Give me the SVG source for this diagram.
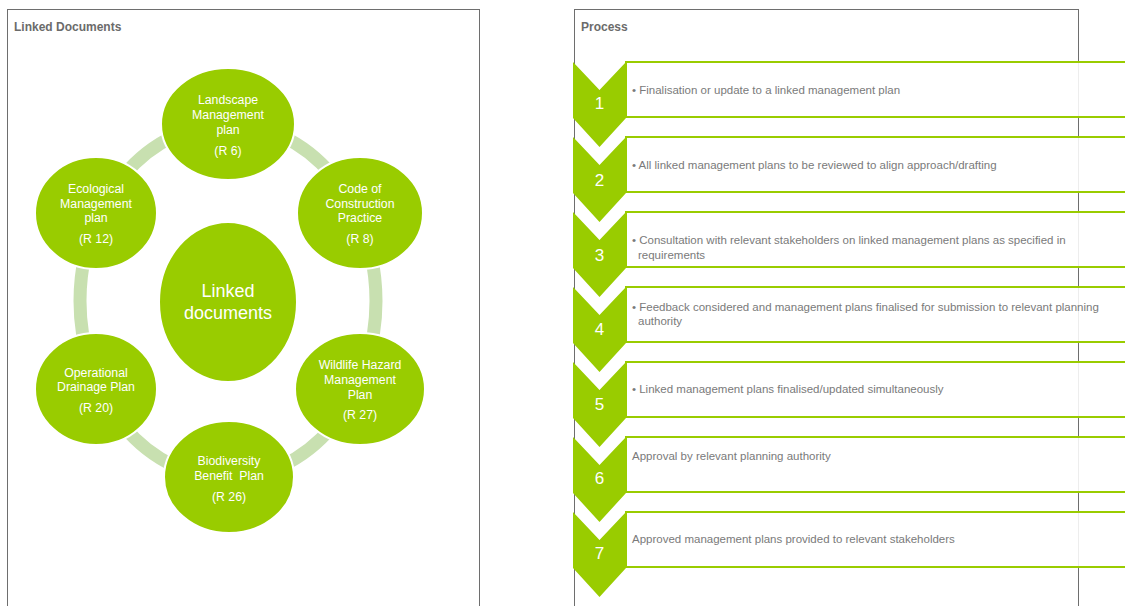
<svg xmlns="http://www.w3.org/2000/svg" width="1125" height="606" viewBox="0 0 1125 606">
<style>
.box{fill:none;stroke:#6e6e6e;stroke-width:1}
.title{font-family:"Liberation Sans",Arial,sans-serif;font-size:12px;font-weight:bold;fill:#6b6b6b}
.ring{fill:none;stroke:#c8e0b0;stroke-width:13}
.node{fill:#99cc00;stroke:#ffffff;stroke-width:2}
.nt{font-family:"Liberation Sans",Arial,sans-serif;font-size:12.3px;fill:#ffffff;text-anchor:middle;white-space:pre}
.ct{font-family:"Liberation Sans",Arial,sans-serif;font-size:18px;fill:#ffffff;text-anchor:middle}
.row{fill:#ffffff;fill-opacity:0.88;stroke:#99cc00;stroke-width:2}
.chev{fill:#99cc00}
.num{font-family:"Liberation Sans",Arial,sans-serif;font-size:17px;fill:#ffffff;text-anchor:middle}
.rt{font-family:"Liberation Sans",Arial,sans-serif;font-size:11.5px;fill:#7a7a7a}
</style>

<g id="panel-linked">
<rect class="box" x="7.5" y="9.5" width="472" height="620"/>
<text class="title" x="14" y="31">Linked Documents</text>
</g>
<g id="panel-process">
<rect class="box" x="574.5" y="9.5" width="504" height="620"/>
<text class="title" x="581" y="31">Process</text>
</g>

<g id="connectors">
<ellipse class="ring" cx="228" cy="301" rx="148" ry="177"/>
</g>

<g id="node-center">
<ellipse class="node" cx="228" cy="302" rx="69" ry="80"/>
<text class="ct" x="228" y="296.5">Linked</text>
<text class="ct" x="228" y="318.5">documents</text>
</g>
<g id="node-landscape">
<ellipse class="node" cx="228" cy="124" rx="67" ry="56"/>
<text class="nt" x="228" y="103.5">Landscape</text>
<text class="nt" x="228" y="118.5">Management</text>
<text class="nt" x="228" y="133.5">plan</text>
<text class="nt" x="228" y="154.5">(R 6)</text>
</g>
<g id="node-code">
<ellipse class="node" cx="360" cy="213" rx="63" ry="56"/>
<text class="nt" x="360" y="192.5">Code of</text>
<text class="nt" x="360" y="207.5">Construction</text>
<text class="nt" x="360" y="221.5">Practice</text>
<text class="nt" x="360" y="242.5">(R 8)</text>
</g>
<g id="node-wildlife">
<ellipse class="node" cx="360" cy="389" rx="65" ry="56"/>
<text class="nt" x="360" y="368.5">Wildlife Hazard</text>
<text class="nt" x="360" y="383.5">Management</text>
<text class="nt" x="360" y="398.5">Plan</text>
<text class="nt" x="360" y="418.5">(R 27)</text>
</g>
<g id="node-biodiversity">
<ellipse class="node" cx="229" cy="477" rx="65" ry="56"/>
<text class="nt" x="229" y="464.5">Biodiversity</text>
<text class="nt" x="229" y="479.5">Benefit  Plan</text>
<text class="nt" x="229" y="500.5">(R 26)</text>
</g>
<g id="node-operational">
<ellipse class="node" cx="96" cy="389" rx="61" ry="56"/>
<text class="nt" x="96" y="376.5">Operational</text>
<text class="nt" x="96" y="390.5">Drainage Plan</text>
<text class="nt" x="96" y="411.5">(R 20)</text>
</g>
<g id="node-ecological">
<ellipse class="node" cx="96" cy="213" rx="61" ry="56"/>
<text class="nt" x="96" y="192.5">Ecological</text>
<text class="nt" x="96" y="207.5">Management</text>
<text class="nt" x="96" y="221.5">plan</text>
<text class="nt" x="96" y="242.5">(R 12)</text>
</g>

<g id="step-1">
<rect class="row" x="626" y="62" width="510" height="55"/>
<polygon class="chev" points="573,62 599.5,90 626,62 626,118 599.5,147 573,118"/>
<text class="num" x="599.5" y="109">1</text>
<text class="rt" x="632" y="94">• Finalisation or update to a linked management plan</text>
</g>
<g id="step-2">
<rect class="row" x="626" y="137" width="510" height="55"/>
<polygon class="chev" points="573,137 599.5,165 626,137 626,193 599.5,222 573,193"/>
<text class="num" x="599.5" y="186">2</text>
<text class="rt" x="632" y="169">• All linked management plans to be reviewed to align approach/drafting</text>
</g>
<g id="step-3">
<rect class="row" x="626" y="212" width="510" height="55"/>
<polygon class="chev" points="573,212 599.5,240 626,212 626,268 599.5,297 573,268"/>
<text class="num" x="599.5" y="261">3</text>
<text class="rt" x="632" y="244">• Consultation with relevant stakeholders on linked management plans as specified in</text>
<text class="rt" x="638" y="259">requirements</text>
</g>
<g id="step-4">
<rect class="row" x="626" y="287" width="510" height="55"/>
<polygon class="chev" points="573,287 599.5,315 626,287 626,343 599.5,372 573,343"/>
<text class="num" x="599.5" y="335">4</text>
<text class="rt" x="632" y="311">• Feedback considered and management plans finalised for submission to relevant planning</text>
<text class="rt" x="638" y="325">authority</text>
</g>
<g id="step-5">
<rect class="row" x="626" y="362" width="510" height="55"/>
<polygon class="chev" points="573,362 599.5,390 626,362 626,418 599.5,447 573,418"/>
<text class="num" x="599.5" y="410">5</text>
<text class="rt" x="632" y="393">• Linked management plans finalised/updated simultaneously</text>
</g>
<g id="step-6">
<rect class="row" x="626" y="437" width="510" height="55"/>
<polygon class="chev" points="573,437 599.5,465 626,437 626,493 599.5,522 573,493"/>
<text class="num" x="599.5" y="484">6</text>
<text class="rt" x="632" y="460">Approval by relevant planning authority</text>
</g>
<g id="step-7">
<rect class="row" x="626" y="512" width="510" height="55"/>
<polygon class="chev" points="573,512 599.5,540 626,512 626,568 599.5,597 573,568"/>
<text class="num" x="599.5" y="559">7</text>
<text class="rt" x="632" y="543">Approved management plans provided to relevant stakeholders</text>
</g>
</svg>
